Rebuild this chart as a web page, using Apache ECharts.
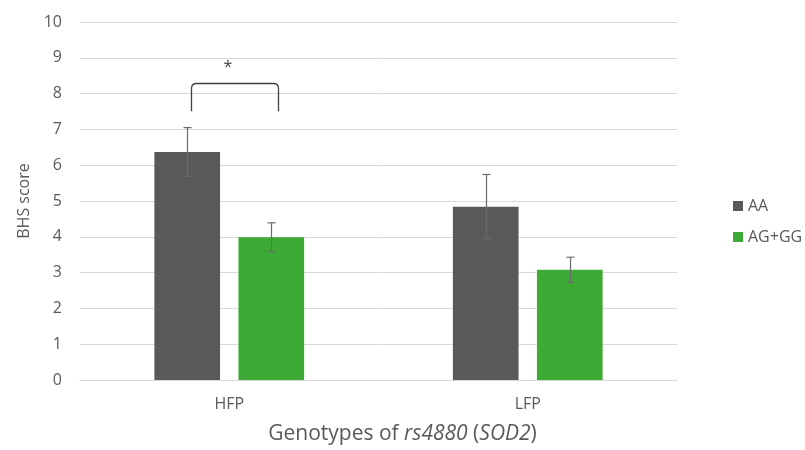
<!DOCTYPE html>
<html>
<head>
<meta charset="utf-8">
<script src="https://cdn.jsdelivr.net/npm/echarts@6/dist/echarts.min.js"></script>
<style>
  html, body { margin: 0; padding: 0; background: #fff; }
  #chart { width: 805px; height: 450px; }
</style>
</head>
<body>
<div id="chart"></div>
<script>
const categories = ["HFP", "LFP"];
const seriesNames = ["AA", "AG+GG"];
const aaValues = [6.37, 4.84];
const aaErrors = [0.68, 0.9];
const agValues = [3.99, 3.08];
const agErrors = [0.4, 0.35];
// significance bracket: [category index, bottom y, top y]
const bracketData = [[0, 7.51, 8.31]];
const bracketLabel = "*";

const chart = echarts.init(document.getElementById("chart"));

const textColor = "#595959";
const font = "Open Sans";
const barWidthPct = 0.22;
const barGapPct = 0.28;

// offset of a bar center from the category center, in px
function barOffset(api, seriesIndex) {
  const band = api.size([1, 0])[0];
  const bw = band * barWidthPct;
  const step = bw + bw * barGapPct;
  return (seriesIndex === 0 ? -1 : 1) * step / 2;
}

function errorSeries(values, errors, seriesIndex) {
  return {
    type: "custom",
    silent: true,
    z: 5,
    data: values.map((v, i) => [i, v - errors[i], v + errors[i]]),
    renderItem: (params, api) => {
      const off = barOffset(api, seriesIndex);
      const lo = api.coord([api.value(0), api.value(1)]);
      const hi = api.coord([api.value(0), api.value(2)]);
      const x = Math.round(lo[0] + off) + 0.5;
      const cap = 4;
      const style = { stroke: "#6b6b6b", lineWidth: 1.2 };
      return {
        type: "group",
        children: [
          { type: "line", shape: { x1: x, y1: lo[1], x2: x, y2: hi[1] }, style },
          { type: "line", shape: { x1: x - cap, y1: hi[1], x2: x + cap, y2: hi[1] }, style },
          { type: "line", shape: { x1: x - cap, y1: lo[1], x2: x + cap, y2: lo[1] }, style },
        ],
      };
    },
  };
}

const options = {
  animation: false,
  textStyle: { fontFamily: font, color: textColor },
  grid: { left: 80, right: 128, top: 22, bottom: 61 },
  legend: {
    orient: "vertical",
    left: 728,
    top: 193,
    itemWidth: 10,
    itemHeight: 10,
    itemGap: 15,
    icon: "rect",
    data: seriesNames,
    textStyle: { fontSize: 16, color: textColor, fontFamily: font },
  },
  xAxis: {
    type: "category",
    data: categories,
    axisTick: { show: false },
    axisLine: { lineStyle: { color: "#d9d9d9" } },
    axisLabel: { fontSize: 16, color: textColor, margin: 16 },
    name: "Genotypes of {i|rs4880} ({i|SOD2})",
    nameLocation: "middle",
    nameGap: 44,
    nameTextStyle: {
      fontSize: 21,
      color: textColor,
      fontFamily: font,
      padding: [0, 0, 0, 48],
      rich: { i: { fontStyle: "italic", fontSize: 21, color: textColor, fontFamily: font } },
    },
  },
  yAxis: {
    type: "value",
    min: 0,
    max: 10,
    interval: 1,
    axisLine: { show: false },
    axisTick: { show: false },
    splitLine: { lineStyle: { color: "#d9d9d9" } },
    axisLabel: { fontSize: 16, color: textColor, margin: 18 },
    name: "BHS score",
    nameLocation: "middle",
    nameGap: 42,
    nameTextStyle: { fontSize: 16, color: textColor, fontFamily: font },
  },
  series: [
    {
      name: seriesNames[0],
      type: "bar",
      data: aaValues,
      barWidth: barWidthPct * 100 + "%",
      barGap: barGapPct * 100 + "%",
      itemStyle: { color: "#595959" },
    },
    {
      name: seriesNames[1],
      type: "bar",
      data: agValues,
      barWidth: barWidthPct * 100 + "%",
      itemStyle: { color: "#3daa35" },
    },
    errorSeries(aaValues, aaErrors, 0),
    errorSeries(agValues, agErrors, 1),
    {
      type: "custom",
      silent: true,
      z: 6,
      data: bracketData,
      renderItem: (params, api) => {
        const band = api.size([1, 0])[0];
        const bottom = api.coord([api.value(0), api.value(1)]);
        const top = api.coord([api.value(0), api.value(2)]);
        const x1 = Math.round(bottom[0] - band * 0.128) + 0.5;
        const x2 = Math.round(bottom[0] + band * 0.164) + 0.5;
        const yb = bottom[1];
        const yt = Math.round(top[1]) + 0.5;
        const r = 5;
        const path =
          `M${x1},${yb} L${x1},${yt + r} Q${x1},${yt} ${x1 + r},${yt} ` +
          `L${x2 - r},${yt} Q${x2},${yt} ${x2},${yt + r} L${x2},${yb}`;
        return {
          type: "group",
          children: [
            {
              type: "path",
              shape: { pathData: path },
              style: { stroke: "#404040", lineWidth: 1.3, fill: null },
            },
            {
              type: "text",
              x: (x1 + x2) / 2 - 7,
              y: yt - 16,
              style: {
                text: bracketLabel,
                fontSize: 16,
                fontFamily: font,
                fill: "#404040",
                align: "center",
                verticalAlign: "middle",
              },
            },
          ],
        };
      },
    },
  ],
};

chart.setOption(options);
</script>
</body>
</html>
